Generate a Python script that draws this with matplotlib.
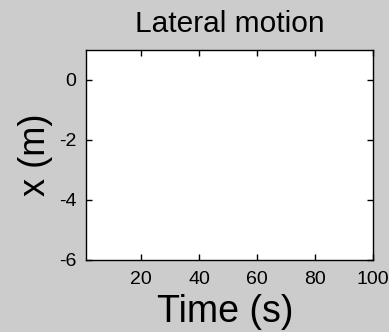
import numpy as np
import matplotlib.pyplot as plt

plt.rcParams['font.family'] = ['Liberation Sans', 'DejaVu Sans']
plt.rcParams['axes.unicode_minus'] = False

# empty lateral-motion axes (no data drawn)
x_limits = [1, 100]
y_limits = [-6, 1]
x_ticks = [20, 40, 60, 80, 100]
y_ticks = [-6, -4, -2, 0]

fig = plt.figure(figsize=(3.89, 3.32), dpi=100, facecolor='#cccccc')
ax = fig.add_axes([86 / 389, 1 - 260 / 332, (373 - 86) / 389, (260 - 50) / 332])
ax.set_facecolor('white')
ax.set_xlim(x_limits)
ax.set_ylim(y_limits)
ax.set_xticks(x_ticks)
ax.set_yticks(y_ticks)
ax.tick_params(direction='in', top=True, right=True, length=4, width=1, labelsize=14)
ax.tick_params(axis='x', pad=8)
ax.tick_params(axis='y', pad=7)
for s in ax.spines.values():
    s.set_linewidth(1)

ax.set_title('Lateral motion', fontsize=21.5, pad=13)
ax.set_xlabel('Time (s)', fontsize=27)
ax.xaxis.set_label_coords(0.486, -0.16)
ax.set_ylabel('x (m)', fontsize=26)
ax.yaxis.set_label_coords(-0.115, 0.5)

fig.savefig('out.png', dpi=100, facecolor=fig.get_facecolor())
